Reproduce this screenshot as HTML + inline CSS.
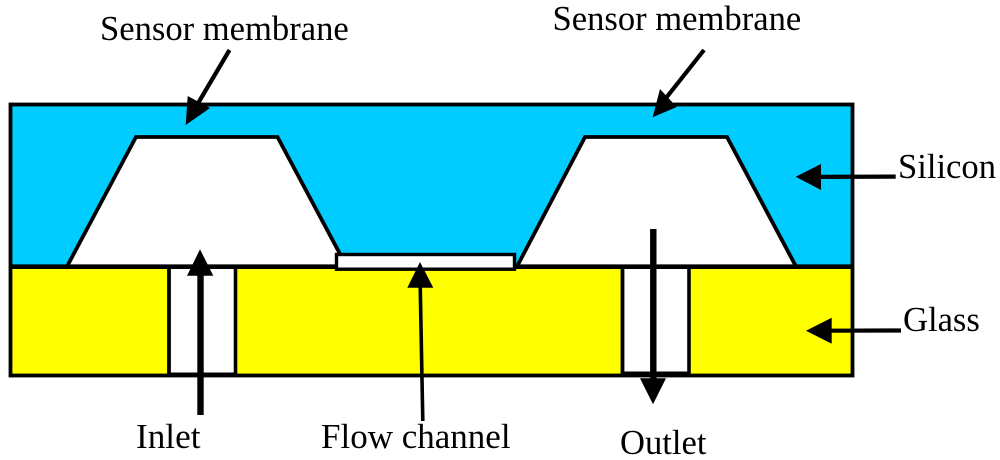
<!DOCTYPE html>
<html>
<head>
<meta charset="utf-8">
<style>
html,body{margin:0;padding:0;background:#fff;}
svg{display:block;}
text{font-family:"Liberation Serif",serif;font-size:34.6px;fill:#000;}
</style>
</head>
<body>
<svg width="1000" height="460" viewBox="0 0 1000 460" xmlns="http://www.w3.org/2000/svg">
<rect width="1000" height="460" fill="#fff"/>
<!-- Silicon and glass fills -->
<rect x="10.5" y="104.8" width="842" height="162" fill="#00ccff"/>
<rect x="10.5" y="266.7" width="842" height="108.8" fill="#ffff00"/>
<!-- Cavities -->
<polygon points="67,266.5 136,137 277.5,137 340,254 340,266.5" fill="#fff"/>
<polygon points="517,266.5 585,137 727,137 796,266.5" fill="#fff"/>
<polyline points="67,266.5 136,137 277.5,137 340,254" fill="none" stroke="#000" stroke-width="3.8"/>
<polyline points="517,266.5 585,137 727,137 796,266.5" fill="none" stroke="#000" stroke-width="3.8"/>
<!-- Ports -->
<rect x="169" y="267" width="66.5" height="107" fill="#fff"/>
<rect x="622.5" y="267" width="66.5" height="106" fill="#fff"/>
<!-- Outer frame and dividers -->
<rect x="10.5" y="104.5" width="842" height="271" fill="none" stroke="#000" stroke-width="3.8"/>
<line x1="9" y1="266.7" x2="854" y2="266.7" stroke="#000" stroke-width="4.6"/>
<line x1="169" y1="266" x2="169" y2="375" stroke="#000" stroke-width="3.8"/>
<line x1="235.5" y1="266" x2="235.5" y2="375" stroke="#000" stroke-width="3.6"/>
<line x1="622.5" y1="266" x2="622.5" y2="375" stroke="#000" stroke-width="3.8"/>
<line x1="689" y1="266" x2="689" y2="375" stroke="#000" stroke-width="3.6"/>
<line x1="622" y1="373" x2="689" y2="373" stroke="#000" stroke-width="3"/>
<line x1="169" y1="374" x2="235" y2="374" stroke="#000" stroke-width="3"/>
<!-- Flow channel -->
<rect x="336.5" y="254.5" width="178" height="14.7" fill="#fff" stroke="#000" stroke-width="3.4"/>
<!-- Sensor arrows -->
<line x1="229.5" y1="50" x2="197" y2="105" stroke="#000" stroke-width="4.2"/>
<polygon points="185.7,125 187.7,96 210,108" fill="#000"/>
<line x1="704" y1="50" x2="666" y2="98" stroke="#000" stroke-width="4.2"/>
<polygon points="652.7,117.3 660,89 676.7,107" fill="#000"/>
<!-- Silicon -->
<line x1="895.7" y1="176.6" x2="820" y2="176.9" stroke="#000" stroke-width="4.2"/>
<polygon points="795.7,176.8 821,164 821,190" fill="#000"/>
<!-- Glass -->
<line x1="901" y1="330.5" x2="830" y2="330.7" stroke="#000" stroke-width="4.2"/>
<polygon points="806,330.7 831.7,317.7 831.7,343.7" fill="#000"/>
<!-- Inlet -->
<line x1="200.5" y1="415" x2="200.5" y2="270" stroke="#000" stroke-width="6.4"/>
<polygon points="200,249.3 187,275.7 213.3,275.7" fill="#000"/>
<!-- Flow -->
<line x1="422.8" y1="421" x2="420.2" y2="285" stroke="#000" stroke-width="3.6"/>
<polygon points="420,262 407.3,287.7 433.3,287.7" fill="#000"/>
<!-- Outlet -->
<line x1="653.3" y1="229" x2="653.3" y2="382" stroke="#000" stroke-width="6.4"/>
<polygon points="653,404.3 640,378.3 666,378.3" fill="#000"/>
<!-- Labels -->
<text x="100" y="40">Sensor membrane</text>
<text x="552.5" y="30">Sensor membrane</text>
<text x="898" y="178">Silicon</text>
<text x="903" y="331">Glass</text>
<text x="136" y="448" style="font-size:35.2px">Inlet</text>
<text x="321" y="448" style="font-size:35px">Flow channel</text>
<text x="620" y="454">Outlet</text>
</svg>
</body>
</html>
